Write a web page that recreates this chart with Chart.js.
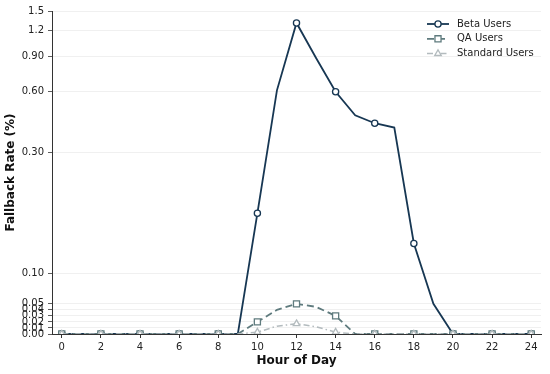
<!DOCTYPE html>
<html>
<head>
<meta charset="utf-8">
<script src="https://cdn.jsdelivr.net/npm/chart.js@4.4.1/dist/chart.umd.min.js"></script>
<style>
  html, body { margin: 0; padding: 0; background: #fff; }
  #wrap { width: 550px; height: 374px; }
</style>
</head>
<body>
<div id="wrap"><canvas id="chart" width="550" height="374"></canvas></div>
<script>
const hours = [0, 1, 2, 3, 4, 5, 6, 7, 8, 9, 10, 11, 12, 13, 14, 15, 16, 17, 18, 19, 20, 21, 22, 23, 24];
const betaUsers = [0, 0, 0, 0, 0, 0, 0, 0, 0, 0, 0.20, 0.61, 1.31, 0.88, 0.60, 0.46, 0.42, 0.40, 0.15, 0.05, 0, 0, 0, 0, 0];
const qaUsers = [0, 0, 0, 0, 0, 0, 0, 0, 0, 0, 0.02, 0.04, 0.05, 0.045, 0.03, 0, 0, 0, 0, 0, 0, 0, 0, 0, 0];
const standardUsers = [0, 0, 0, 0, 0, 0, 0, 0, 0, 0, 0.003, 0.013, 0.017, 0.012, 0.003, 0, 0, 0, 0, 0, 0, 0, 0, 0, 0];
const seriesNames = ['Beta Users', 'QA Users', 'Standard Users'];
const xTicks = [0, 2, 4, 6, 8, 10, 12, 14, 16, 18, 20, 22, 24];
const yTicks = [0, 0.01, 0.02, 0.03, 0.04, 0.05, 0.1, 0.3, 0.6, 0.9, 1.2, 1.5];
const yTickLabels = ['0.00', '0.01', '0.02', '0.03', '0.04', '0.05', '0.10', '0.30', '0.60', '0.90', '1.2', '1.5'];

// symlog transform: linear below 0.3, log10 above
const LIN_T = 0.3;
const LIN_SPAN = 0.892; // linear part measured in decades
function symlog(v) {
  return v <= LIN_T ? LIN_SPAN * v / LIN_T : LIN_SPAN + Math.log10(v / LIN_T);
}
function symlogInv(t) {
  return t <= LIN_SPAN ? t * LIN_T / LIN_SPAN : LIN_T * Math.pow(10, t - LIN_SPAN);
}

class SymlogScale extends Chart.LinearScale {
  getPixelForValue(value) {
    const a = symlog(this.min), b = symlog(this.max);
    return this.getPixelForDecimal((symlog(value) - a) / (b - a));
  }
  getValueForPixel(pixel) {
    const a = symlog(this.min), b = symlog(this.max);
    return symlogInv(a + this.getDecimalForPixel(pixel) * (b - a));
  }
}
SymlogScale.id = 'symlog';
SymlogScale.defaults = {};
Chart.register(SymlogScale);

const pts = arr => hours.map((h, i) => ({ x: h, y: arr[i] }));
const everyOther = r => ctx => (ctx.dataIndex % 2 === 0 ? r : 0);

const styles = [
  { color: '#173753', width: 1.8, dash: [], marker: 'circle', r: 3.1 },
  { color: '#5f7b7e', width: 1.8, dash: [7, 4], marker: 'rect', r: 4.3 },
  { color: '#b3bbbe', width: 1.5, dash: [6, 3, 1.5, 3], marker: 'triangle', r: 3.8 }
];
const allSeries = [betaUsers, qaUsers, standardUsers];

const legendPlugin = {
  id: 'mplLegend',
  afterDraw(chart) {
    const ctx = chart.ctx;
    ctx.save();
    styles.forEach((s, i) => {
      const y = 24 + i * 14.8;
      ctx.strokeStyle = s.color;
      ctx.lineWidth = s.width;
      ctx.setLineDash(s.dash);
      ctx.beginPath();
      ctx.moveTo(427, y);
      ctx.lineTo(449, y);
      ctx.stroke();
      ctx.setLineDash([]);
      ctx.lineWidth = 1.3;
      ctx.fillStyle = '#fff';
      Chart.helpers.drawPoint(ctx, { pointStyle: s.marker, radius: s.r, rotation: 0, borderWidth: 1.3 }, 438, y);
      ctx.fillStyle = '#222';
      ctx.font = '10px "DejaVu Sans"';
      ctx.textBaseline = 'middle';
      ctx.textAlign = 'left';
      ctx.fillText(seriesNames[i], 457, y);
    });
    ctx.restore();
  }
};

new Chart(document.getElementById('chart'), {
  type: 'line',
  data: {
    datasets: allSeries.map((arr, i) => ({
      label: seriesNames[i],
      data: pts(arr),
      borderColor: styles[i].color,
      borderWidth: styles[i].width,
      borderDash: styles[i].dash,
      pointStyle: styles[i].marker,
      pointRadius: everyOther(styles[i].r),
      pointBorderWidth: 1.3,
      pointBorderColor: styles[i].color,
      pointBackgroundColor: '#fff',
      tension: 0,
      fill: false,
      order: 3 - i
    }))
  },
  options: {
    responsive: false,
    animation: false,
    layout: { padding: { top: 11, right: 9, left: 0, bottom: 0 } },
    plugins: { legend: { display: false }, tooltip: { enabled: false } },
    scales: {
      x: {
        type: 'linear',
        min: -0.5,
        max: 24.5,
        afterBuildTicks: s => { s.ticks = xTicks.map(v => ({ value: v })); },
        afterFit: s => { s.height = 40; },
        grid: { drawOnChartArea: false, tickLength: 4, tickColor: '#333' },
        border: { color: '#333', width: 1 },
        ticks: { color: '#222', padding: 3, maxRotation: 0, autoSkip: false, font: { family: 'DejaVu Sans', size: 10 } },
        title: { display: true, text: 'Hour of Day', color: '#111', font: { family: 'DejaVu Sans', size: 12, weight: 'bold' }, padding: { top: 2, bottom: 6 } }
      },
      y: {
        type: 'symlog',
        min: 0,
        max: 1.5,
        afterBuildTicks: s => { s.ticks = yTicks.map(v => ({ value: v })); },
        afterFit: s => { s.width = 52; },
        grid: { color: '#ececec', lineWidth: 0.8, tickLength: 4, tickColor: '#333' },
        border: { color: '#333', width: 1 },
        ticks: {
          color: '#222', padding: 4, autoSkip: false,
          font: { family: 'DejaVu Sans', size: 10 },
          callback: (v, i) => yTickLabels[i]
        },
        title: { display: true, text: 'Fallback Rate (%)', color: '#111', font: { family: 'DejaVu Sans', size: 12, weight: 'bold' }, padding: { top: 4, bottom: 4 } }
      }
    }
  },
  plugins: [legendPlugin]
});
</script>
</body>
</html>
